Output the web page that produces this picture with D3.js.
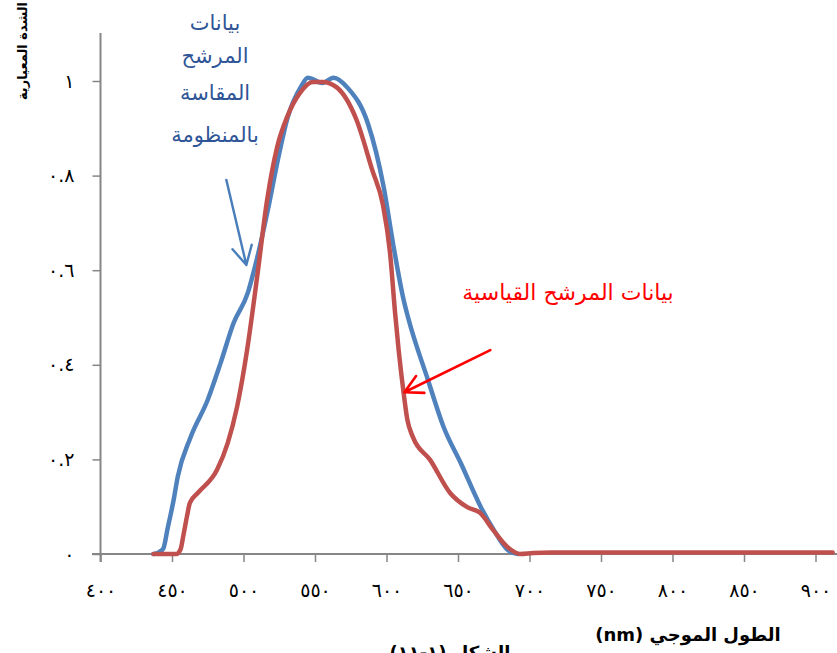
<!DOCTYPE html>
<html>
<head>
<meta charset="utf-8">
<script src="https://cdn.jsdelivr.net/npm/d3@7"></script>
<style>
  body { margin: 0; background: #fff; }
  svg { display: block; }
</style>
</head>
<body>
<svg id="chart" width="837" height="653"></svg>
<script>
// data (wavelength nm / normalised intensity)
const blueNm  = [437, 441, 444, 447, 451, 454, 463, 475, 484, 493, 503, 508, 517, 524, 531, 540, 545, 555, 563, 573, 587, 598, 605, 612, 615, 629, 640, 652, 666, 675, 685, 692];
const blueVal = [0, 0.004, 0.012, 0.055, 0.112, 0.163, 0.247, 0.326, 0.404, 0.488, 0.552, 0.607, 0.727, 0.833, 0.924, 0.987, 1.007, 0.996, 1.007, 0.985, 0.91, 0.776, 0.649, 0.537, 0.501, 0.368, 0.268, 0.192, 0.099, 0.051, 0.008, 0];

const redNm  = [437, 453, 456, 458, 460.5, 462.5, 468, 481.5, 489, 495.5, 502.5, 509.5, 516.5, 523.5, 530.5, 539.5, 548.5, 555.5, 565, 579, 590, 597.5, 602.5, 606, 608.5, 612, 614.5, 618.5, 630.5, 644.5, 656.5, 665.5, 674.5, 684.5, 693.5, 702.5, 715, 912];
const redVal = [0, 0, 0.01, 0.04, 0.08, 0.108, 0.129, 0.178, 0.235, 0.311, 0.431, 0.585, 0.748, 0.86, 0.924, 0.975, 0.998, 0.998, 0.987, 0.918, 0.812, 0.738, 0.636, 0.51, 0.431, 0.34, 0.285, 0.247, 0.199, 0.129, 0.099, 0.087, 0.051, 0.015, 0, 0.002, 0.003, 0.003];

const xTicks = [400, 450, 500, 550, 600, 650, 700, 750, 800, 850, 900];
const yTicks = [0, 0.2, 0.4, 0.6, 0.8, 1];

const blueLabel = ['بيانات', 'المرشح', 'المقاسة', 'بالمنظومة'];
const redLabel = 'بيانات المرشح القياسية';
const xTitle = 'الطول الموجي (nm)';
const yTitle = 'الشدة المعيارية';
const caption = 'الشكل (١-١١)';

const FONT = "'DejaVu Sans', sans-serif";
const AXIS = '#868686';

const svg = d3.select('#chart');
svg.append('rect').attr('width', 837).attr('height', 653).attr('fill', '#fff');

const x = d3.scaleLinear().domain([400, 900]).range([100.5, 815.5]);
const y = d3.scaleLinear().domain([0, 1]).range([554, 81]);

// arabic-indic digits
const arabic = s => String(s).replace(/[0-9]/g, c => '٠١٢٣٤٥٦٧٨٩'[+c]);

// x axis
const xAxis = d3.axisBottom(x)
  .tickValues(xTicks)
  .tickSizeInner(8)
  .tickSizeOuter(0)
  .tickPadding(22)
  .tickFormat(d => arabic(d));

const gx = svg.append('g')
  .attr('transform', 'translate(0,554)')
  .call(xAxis);
gx.select('.domain').remove();
gx.selectAll('.tick line').attr('stroke', AXIS).attr('stroke-width', 1.5);
gx.selectAll('.tick text')
  .attr('fill', '#000')
  .style('font-family', FONT)
  .style('font-size', '19px');

// y axis
const yAxis = d3.axisLeft(y)
  .tickValues(yTicks)
  .tickSizeInner(8)
  .tickSizeOuter(0)
  .tickPadding(18)
  .tickFormat(d => arabic(d3.format('.1~f')(d)));

const gy = svg.append('g')
  .attr('transform', 'translate(100.5,0)')
  .call(yAxis);
gy.select('.domain').remove();
gy.selectAll('.tick line').attr('stroke', AXIS).attr('stroke-width', 1.5);
gy.selectAll('.tick text')
  .attr('fill', '#000')
  .style('font-family', FONT)
  .style('font-size', '19px');

// axis lines
svg.append('line')
  .attr('x1', 92).attr('x2', 837)
  .attr('y1', y(0)).attr('y2', y(0))
  .attr('stroke', AXIS).attr('stroke-width', 2);
svg.append('line')
  .attr('x1', x(400)).attr('x2', x(400))
  .attr('y1', 33).attr('y2', y(0) + 8)
  .attr('stroke', AXIS).attr('stroke-width', 2);

// curves
const line = d3.line()
  .x(d => x(d[0]))
  .y(d => y(d[1]))
  .curve(d3.curveMonotoneX);

svg.append('path')
  .datum(d3.zip(blueNm, blueVal))
  .attr('d', line)
  .attr('fill', 'none')
  .attr('stroke', '#4f81bd')
  .attr('stroke-width', 4.5)
  .attr('stroke-linejoin', 'round')
  .attr('stroke-linecap', 'round');

svg.append('path')
  .datum(d3.zip(redNm, redVal))
  .attr('d', line)
  .attr('fill', 'none')
  .attr('stroke', '#c0504d')
  .attr('stroke-width', 4.5)
  .attr('stroke-linejoin', 'round')
  .attr('stroke-linecap', 'round');

// arrows (annotation anchors in data units)
function arrow(from, to, color, width, head) {
  const x1 = x(from[0]), y1 = y(from[1]), x2 = x(to[0]), y2 = y(to[1]);
  const a = Math.atan2(y1 - y2, x1 - x2);
  const w = 28 * Math.PI / 180;
  const p1 = [x2 + head * Math.cos(a + w), y2 + head * Math.sin(a + w)];
  const p2 = [x2 + head * Math.cos(a - w), y2 + head * Math.sin(a - w)];
  svg.append('path')
    .attr('d', `M${x1},${y1}L${x2},${y2}M${p1[0]},${p1[1]}L${x2},${y2}L${p2[0]},${p2[1]}`)
    .attr('fill', 'none')
    .attr('stroke', color)
    .attr('stroke-width', width)
    .attr('stroke-linecap', 'round')
    .attr('stroke-linejoin', 'round');
}
arrow([488, 0.791], [502, 0.611], '#4a7ebb', 2.4, 21);
arrow([672.6, 0.431], [612.5, 0.342], '#ff0000', 2.6, 20);

// annotation texts
svg.append('g')
  .selectAll('text')
  .data(blueLabel)
  .enter()
  .append('text')
  .text(d => d)
  .attr('x', 215)
  .attr('y', (d, i) => [30, 63, 100, 142][i])
  .attr('text-anchor', 'middle')
  .attr('fill', '#2f5597')
  .style('font-family', FONT)
  .style('font-size', '21px');

svg.append('text')
  .text(redLabel)
  .attr('x', 568)
  .attr('y', 300)
  .attr('text-anchor', 'middle')
  .attr('fill', '#ff0000')
  .style('font-family', FONT)
  .style('font-size', '22px');

// titles
svg.append('text')
  .text(xTitle)
  .attr('x', 688)
  .attr('y', 641)
  .attr('direction', 'rtl')
  .attr('text-anchor', 'middle')
  .attr('fill', '#000')
  .style('font-family', FONT)
  .style('font-weight', 'bold')
  .style('font-size', '18px');

svg.append('text')
  .text(yTitle)
  .attr('transform', 'translate(27,51) rotate(-90)')
  .attr('text-anchor', 'middle')
  .attr('fill', '#000')
  .style('font-family', FONT)
  .style('font-weight', 'bold')
  .style('font-size', '13px');

svg.append('text')
  .text(caption)
  .attr('x', 450)
  .attr('y', 659)
  .attr('direction', 'rtl')
  .attr('text-anchor', 'middle')
  .attr('fill', '#000')
  .style('font-family', FONT)
  .style('font-weight', 'bold')
  .style('font-size', '18px');
</script>
</body>
</html>
